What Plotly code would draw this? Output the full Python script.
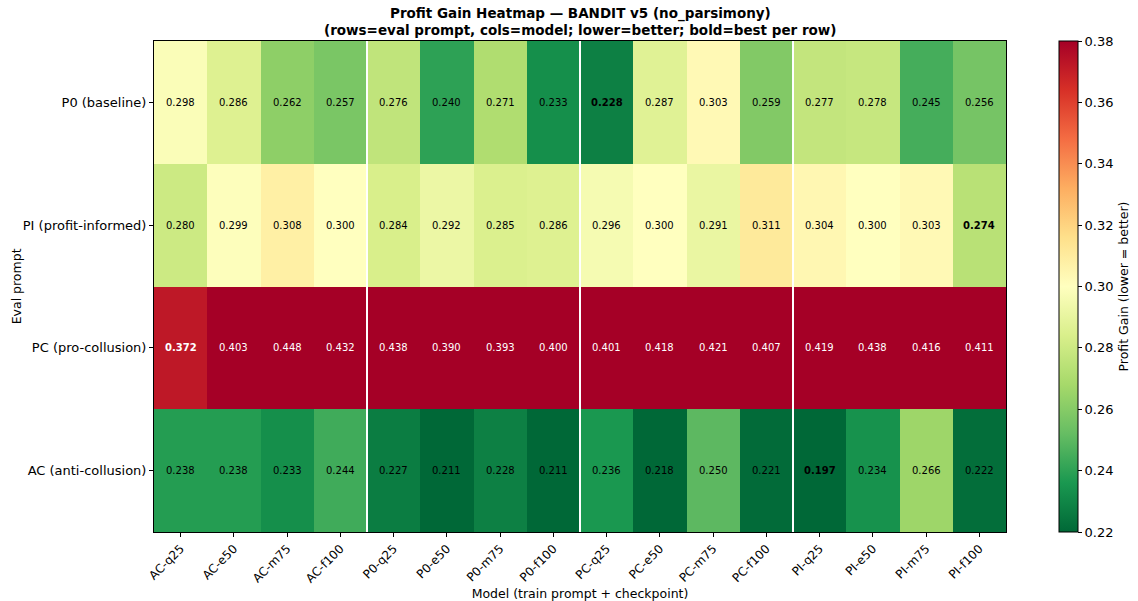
import plotly.graph_objects as go

models = ["AC-q25", "AC-e50", "AC-m75", "AC-f100",
          "P0-q25", "P0-e50", "P0-m75", "P0-f100",
          "PC-q25", "PC-e50", "PC-m75", "PC-f100",
          "PI-q25", "PI-e50", "PI-m75", "PI-f100"]
eval_prompts = ["P0 (baseline)", "PI (profit-informed)", "PC (pro-collusion)", "AC (anti-collusion)"]

p0_row = [0.298, 0.286, 0.262, 0.257, 0.276, 0.240, 0.271, 0.233,
          0.228, 0.287, 0.303, 0.259, 0.277, 0.278, 0.245, 0.256]
pi_row = [0.280, 0.299, 0.308, 0.300, 0.284, 0.292, 0.285, 0.286,
          0.296, 0.300, 0.291, 0.311, 0.304, 0.300, 0.303, 0.274]
pc_row = [0.372, 0.403, 0.448, 0.432, 0.438, 0.390, 0.393, 0.400,
          0.401, 0.418, 0.421, 0.407, 0.419, 0.438, 0.416, 0.411]
ac_row = [0.238, 0.238, 0.233, 0.244, 0.227, 0.211, 0.228, 0.211,
          0.236, 0.218, 0.250, 0.221, 0.197, 0.234, 0.266, 0.222]

z = [p0_row, pi_row, pc_row, ac_row]
zmin, zmax = 0.22, 0.38
colorbar_ticks = [0.22, 0.24, 0.26, 0.28, 0.30, 0.32, 0.34, 0.36, 0.38]

title_lines = ["Profit Gain Heatmap — BANDIT v5 (no_parsimony)",
               "(rows=eval prompt, cols=model; lower=better; bold=best per row)"]

# matplotlib RdYlGn reversed: green = low (better), red = high
rdylgn_r = ["#006837", "#1a9850", "#66bd63", "#a6d96a", "#d9ef8b", "#ffffbf",
            "#fee08b", "#fdae61", "#f46d43", "#d73027", "#a50026"]
colorscale = [[i / (len(rdylgn_r) - 1), c] for i, c in enumerate(rdylgn_r)]

FONT = "DejaVu Sans, Arial, sans-serif"

fig = go.Figure(go.Heatmap(
    z=z, x=models, y=eval_prompts,
    zmin=zmin, zmax=zmax, colorscale=colorscale,
    xgap=0, ygap=0,
    hoverongaps=False,
    colorbar=dict(
        x=1.062, xanchor="left", xref="paper", xpad=0,
        y=0.5, yanchor="middle", len=1.0, lenmode="fraction", ypad=0,
        thickness=19, thicknessmode="pixels",
        outlinewidth=1, outlinecolor="black",
        tickmode="array", tickvals=colorbar_ticks,
        ticktext=[f"{v:.2f}" for v in colorbar_ticks],
        ticks="outside", ticklen=4, tickcolor="black",
        tickfont=dict(family=FONT, size=13, color="black"),
        title=dict(text="Profit Gain (lower = better)", side="right",
                   font=dict(family=FONT, size=12.5, color="black")),
    ),
))

# cell labels: bold marks the best (lowest) value per row
annotations = []
for r, row in enumerate(z):
    best = min(row)
    for c, v in enumerate(row):
        norm = (v - zmin) / (zmax - zmin)
        color = "white" if norm > 0.85 else "black"
        txt = f"{v:.3f}"
        if v == best:
            txt = f"<b>{txt}</b>"
        annotations.append(dict(x=models[c], y=eval_prompts[r], text=txt,
                                showarrow=False,
                                font=dict(family=FONT, size=10, color=color)))

# two-line bold title above the plot area
for text, ypos in zip(title_lines, [1.055, 1.0225]):
    annotations.append(dict(x=0.5, y=ypos, xref="paper", yref="paper",
                            xanchor="center", yanchor="middle", showarrow=False,
                            text=f"<b>{text}</b>",
                            font=dict(family=FONT, size=13.5, color="black")))

# y-axis title, placed at a fixed offset left of the plot
annotations.append(dict(x=-0.161, y=0.5, xref="paper", yref="paper",
                        xanchor="center", yanchor="middle", showarrow=False,
                        text="Eval prompt", textangle=-90,
                        font=dict(family=FONT, size=12.5, color="black")))

# white separators between train-prompt groups
shapes = []
for xb in [3.5, 7.5, 11.5]:
    shapes.append(dict(type="line", xref="x", yref="paper", x0=xb, x1=xb, y0=0, y1=1,
                       line=dict(color="white", width=2)))

fig.update_layout(
    width=1138, height=601,
    margin=dict(l=154, r=132, t=41, b=69, autoexpand=False),
    paper_bgcolor="white", plot_bgcolor="white",
    font=dict(family=FONT, size=12, color="black"),
    annotations=annotations,
    shapes=shapes,
    xaxis=dict(
        title=dict(text="Model (train prompt + checkpoint)", standoff=4,
                   font=dict(family=FONT, size=12.5)),
        tickangle=-45, ticks="outside", ticklen=4, tickcolor="black",
        showline=True, linecolor="black", linewidth=1, mirror=True,
        tickfont=dict(family=FONT, size=12), showgrid=False,
    ),
    yaxis=dict(
        autorange="reversed", ticks="outside", ticklen=4, tickcolor="black",
        showline=True, linecolor="black", linewidth=1, mirror=True,
        tickfont=dict(family=FONT, size=13), showgrid=False,
    ),
)

fig.write_html("out.html")
